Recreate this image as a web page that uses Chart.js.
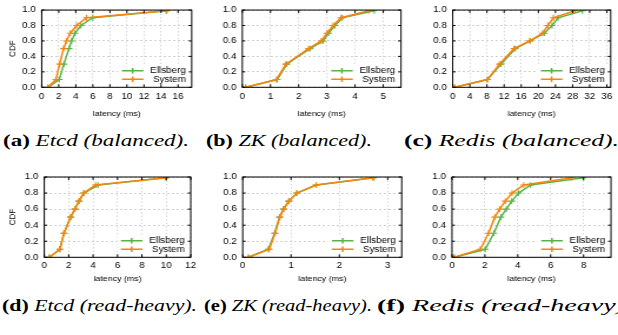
<!DOCTYPE html>
<html>
<head>
<meta charset="utf-8">
<script src="https://cdn.jsdelivr.net/npm/chart.js@4.4.1/dist/chart.umd.min.js"></script>
<style>
    html, body { margin: 0; padding: 0; background: #fff; }
    body { width: 618px; height: 335px; position: relative; overflow: hidden; }
    canvas { position: absolute; }
    .cap { position: absolute; font-family: "Liberation Serif", serif; font-size: 16px; line-height: 18px; height: 18px; white-space: nowrap; transform-origin: 0 50%; color: #000; }
    .cap i { font-style: italic; }
</style>
</head>
<body>
<div class="cap" id="capA" style="top:132px"><b>(a)</b> <i>Etcd (balanced).</i></div>
<div class="cap" id="capB" style="top:132px"><b>(b)</b> <i>ZK (balanced).</i></div>
<div class="cap" id="capC" style="top:132px"><b>(c)</b> <i>Redis (balanced).</i></div>
<div class="cap" id="capD" style="top:297px"><b>(d)</b> <i>Etcd (read-heavy).</i></div>
<div class="cap" id="capE" style="top:297px"><b>(e)</b> <i>ZK (read-heavy).</i></div>
<div class="cap" id="capF" style="top:297px"><b>(f)</b> <i>Redis (read-heavy).</i></div>
<script>
// CDF levels shared by every panel (y values of the points)
const cdfLevels = [0, 0.1, 0.3, 0.5, 0.6, 0.7, 0.8, 0.9, 0.99];
const yTicks = [0, 0.2, 0.4, 0.6, 0.8, 1.0];

// latency (ms) at each CDF level
const etcdBalEllsberg = [0.72, 2.05, 2.6, 3.2, 3.5, 3.9, 4.6, 6.0, 14.6];
const etcdBalSystem   = [0.72, 1.66, 2.1, 2.56, 2.9, 3.35, 4.1, 5.25, 14.7];
const zkBalEllsberg   = [0.12, 1.24, 1.58, 2.4, 2.87, 3.06, 3.29, 3.55, 4.68];
const zkBalSystem     = [0.12, 1.21, 1.54, 2.35, 2.8, 3.0, 3.22, 3.5, 4.48];
const redisBalEllsberg = [0.47, 8.1, 11.3, 14.6, 18.1, 21.4, 23.2, 24.6, 30.3];
const redisBalSystem   = [0.47, 8.1, 10.9, 14.3, 18.0, 21.0, 22.2, 23.5, 28.5];
const etcdReadEllsberg = [0.41, 1.28, 1.61, 2.16, 2.51, 2.84, 3.25, 4.4, 10.0];
const etcdReadSystem   = [0.41, 1.28, 1.61, 2.16, 2.51, 2.84, 3.22, 4.2, 9.95];
const zkReadEllsberg   = [0.12, 0.53, 0.66, 0.76, 0.84, 0.95, 1.12, 1.52, 2.72];
const zkReadSystem     = [0.12, 0.55, 0.67, 0.77, 0.85, 0.96, 1.12, 1.52, 2.69];
const redisReadEllsberg = [0.14, 2.02, 2.54, 2.97, 3.3, 3.63, 4.05, 4.78, 8.0];
const redisReadSystem   = [0.14, 1.72, 2.22, 2.6, 2.9, 3.24, 3.65, 4.36, 7.29];

// x tick labels per panel
const xTicksEtcdBal  = [0, 2, 4, 6, 8, 10, 12, 14, 16];
const xTicksZkBal    = [0, 1, 2, 3, 4, 5];
const xTicksRedisBal = [0, 4, 8, 12, 16, 20, 24, 28, 32, 36];
const xTicksEtcdRead = [0, 2, 4, 6, 8, 10, 12];
const xTicksZkRead   = [0, 1, 2, 3];
const xTicksRedisRead = [0, 2, 4, 6, 8];

const GREEN = '#58b448';
const ORANGE = '#f8850c';
const FONT = '"Liberation Sans", Arial, sans-serif';
const TICK_SIZE = 8.4;

// the reference is stretched horizontally; canvases are drawn narrow and widened by CSS
const CSS_W = 206, CSS_H = 120, INT_W = 175;
const SX = CSS_W / INT_W;

const panels = [
    { left: 0,   top: 0,   plot: [41.7, 6, 191.7, 87.3],  xMax: 17.6, xTicks: xTicksEtcdBal,  ell: etcdBalEllsberg,  sys: etcdBalSystem,  cdf: true,  tickPad: 4.7 },
    { left: 206, top: 0,   plot: [242.3, 6, 401, 87.3],   xMax: 5.63, xTicks: xTicksZkBal,    ell: zkBalEllsberg,    sys: zkBalSystem,    cdf: false, tickPad: 4.7 },
    { left: 412, top: 0,   plot: [452.7, 6, 612, 87.3],   xMax: 36.9, xTicks: xTicksRedisBal, ell: redisBalEllsberg, sys: redisBalSystem, cdf: false, tickPad: 4.7 },
    { left: 0,   top: 165, plot: [44.3, 177, 190.7, 257.3], xMax: 12,  xTicks: xTicksEtcdRead, ell: etcdReadEllsberg, sys: etcdReadSystem, cdf: true,  tickPad: 3.4 },
    { left: 206, top: 165, plot: [242.7, 177, 401.7, 257.3], xMax: 3.29, xTicks: xTicksZkRead, ell: zkReadEllsberg,   sys: zkReadSystem,   cdf: false, tickPad: 3.4 },
    { left: 412, top: 165, plot: [452, 177, 611, 257.3],  xMax: 9.67, xTicks: xTicksRedisRead, ell: redisReadEllsberg, sys: redisReadSystem, cdf: false, tickPad: 3.4 }
];

// Border with inward tick marks, like gnuplot
const framePlugin = {
    id: 'frame',
    afterDraw(chart) {
        const { ctx, chartArea: a, scales } = chart;
        ctx.save();
        ctx.strokeStyle = '#000';
        ctx.lineWidth = 1;
        ctx.beginPath();
        scales.x.ticks.forEach(t => {
            const px = scales.x.getPixelForValue(t.value);
            ctx.moveTo(px, a.bottom); ctx.lineTo(px, a.bottom - 3);
            ctx.moveTo(px, a.top); ctx.lineTo(px, a.top + 3);
        });
        scales.y.ticks.forEach(t => {
            const py = scales.y.getPixelForValue(t.value);
            ctx.moveTo(a.left, py); ctx.lineTo(a.left + 2.5, py);
            ctx.moveTo(a.right, py); ctx.lineTo(a.right - 2.5, py);
        });
        ctx.stroke();
        ctx.strokeRect(a.left, a.top, a.right - a.left, a.bottom - a.top);
        ctx.restore();
    }
};

// Key in the lower right corner: sample on the left, name right-aligned
const keyPlugin = {
    id: 'key',
    afterDatasetsDraw(chart) {
        const { ctx, chartArea: a } = chart;
        const rows = ['Ellsberg', 'System'].map(name => chart.data.datasets.find(d => d.label === name));
        ctx.save();
        ctx.fillStyle = '#fff';
        ctx.fillRect(a.right - 62.5, a.bottom - 22.5, 62.5, 22.5);
        rows.forEach((ds, i) => {
            const y = a.bottom - (i === 0 ? 16.6 : 8);
            ctx.strokeStyle = ds.borderColor;
            ctx.lineWidth = 1.5;
            ctx.beginPath();
            ctx.moveTo(a.right - 59.3, y); ctx.lineTo(a.right - 41, y);
            const cx = a.right - 50.2;
            ctx.moveTo(cx - 2.8, y); ctx.lineTo(cx + 2.8, y);
            ctx.moveTo(cx, y - 2.8); ctx.lineTo(cx, y + 2.8);
            ctx.stroke();
            ctx.fillStyle = '#000';
            ctx.font = TICK_SIZE + 'px ' + FONT;
            ctx.textAlign = 'right';
            ctx.textBaseline = 'middle';
            ctx.fillText(ds.label, a.right - 5, y);
        });
        ctx.restore();
    }
};

function series(label, xs, color, order) {
    return {
        label: label,
        data: xs.map((x, i) => ({ x: x, y: cdfLevels[i] })),
        borderColor: color,
        backgroundColor: color,
        borderWidth: 1.5,
        pointStyle: 'cross',
        pointRadius: 2.9,
        pointBorderWidth: 1.1,
        tension: 0,
        order: order
    };
}

panels.forEach(p => {
    const cv = document.createElement('canvas');
    cv.width = INT_W;
    cv.height = CSS_H;
    cv.style.left = p.left + 'px';
    cv.style.top = p.top + 'px';
    cv.style.width = CSS_W + 'px';
    cv.style.height = CSS_H + 'px';
    document.body.appendChild(cv);

    const plotL = (p.plot[0] - p.left) / SX;
    const plotR = (p.plot[2] - p.left) / SX;
    const padTop = p.plot[1] - p.top;
    const xAxisH = p.top + CSS_H - p.plot[3];

    new Chart(cv, {
        type: 'line',
        data: {
            datasets: [
                series('System', p.sys, ORANGE, 0),
                series('Ellsberg', p.ell, GREEN, 1)
            ]
        },
        options: {
            responsive: false,
            animation: false,
            devicePixelRatio: 1,
            layout: { padding: { left: 0, top: padTop, right: INT_W - plotR, bottom: 0 } },
            plugins: { legend: { display: false }, tooltip: { enabled: false } },
            scales: {
                x: {
                    type: 'linear',
                    min: 0,
                    max: p.xMax,
                    afterBuildTicks: axis => { axis.ticks = p.xTicks.map(v => ({ value: v })); },
                    afterFit: s => { s.height = xAxisH; },
                    grid: { color: '#d0d0d0', lineWidth: 0.9, drawTicks: false },
                    border: { display: false, dash: [1.5, 2] },
                    ticks: { padding: p.tickPad, color: '#000', font: { family: FONT, size: TICK_SIZE }, maxRotation: 0 },
                    title: { display: true, text: 'latency (ms)', color: '#000', font: { family: FONT, size: 7.5 }, padding: { top: 0, bottom: 1.8 } }
                },
                y: {
                    min: 0,
                    max: 1,
                    afterBuildTicks: axis => { axis.ticks = yTicks.map(v => ({ value: v })); },
                    afterFit: s => { s.width = plotL; },
                    grid: { color: '#d0d0d0', lineWidth: 1, drawTicks: false },
                    border: { display: false, dash: [2, 2] },
                    ticks: { padding: 5, color: '#000', font: { family: FONT, size: TICK_SIZE }, callback: v => v.toFixed(1) },
                    title: { display: p.cdf, text: 'CDF', color: '#000', font: { family: FONT, size: 8 }, padding: { top: 6, bottom: 0 } }
                }
            }
        },
        plugins: [keyPlugin, framePlugin]
    });
});

// Captions: each stretched to span its [start, end] x range in the reference
const capSpans = {
    capA: [3, 189], capB: [206, 372], capC: [404, 619],
    capD: [2, 197], capE: [204, 372], capF: [377, 632]
};
Object.keys(capSpans).forEach(id => {
    const el = document.getElementById(id);
    const [x0, x1] = capSpans[id];
    const s = (x1 - x0) / el.getBoundingClientRect().width;
    el.style.left = x0 + 'px';
    el.style.transform = 'scaleX(' + s.toFixed(3) + ')';
});
</script>
</body>
</html>
